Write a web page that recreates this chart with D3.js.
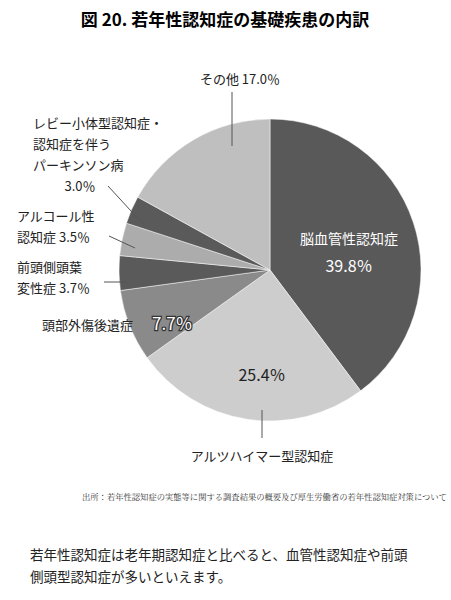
<!DOCTYPE html><html><head><meta charset="utf-8">
<script src="https://cdn.jsdelivr.net/npm/d3@7"></script>
<style>body{margin:0;background:#fff;font-family:"Noto Sans CJK JP",sans-serif}</style></head><body>
<svg id="c" width="451" height="600"></svg>
<script>
const categories=["脳血管性認知症","アルツハイマー型認知症","頭部外傷後遺症","前頭側頭葉変性症","アルコール性認知症","レビー小体型認知症・認知症を伴うパーキンソン病","その他"];
const values=[39.8,25.4,7.7,3.7,3.5,3.0,17.0];
const colors=["#595959","#cdcdcd","#8a8a8a","#5a5a5a","#acacac","#5a5a5a","#bfbfbf"];
const svg=d3.select("#c");
const cx=270,cy=270,r=151;
const pie=d3.pie().sort(null).value(d=>d)(values);
const arc=d3.arc().innerRadius(0).outerRadius(r);
const g=svg.append("g").attr("transform",`translate(${cx},${cy})`);
g.selectAll("path").data(pie).join("path").attr("d",arc).attr("fill",(d,i)=>colors[i]).attr("stroke","#fff").attr("stroke-width",0.5);
svg.append("text").attr("x",225).attr("y",26).attr("text-anchor","middle").attr("font-size",17).attr("font-weight","bold").text("図 20. 若年性認知症の基礎疾患の内訳");
function t(x,y,s,size,anchor,fill){return svg.append("text").attr("x",x).attr("y",y).attr("font-size",size||13).attr("text-anchor",anchor||"start").attr("fill",fill||"#222").text(s);}
const lines=[[232,92,232,146],[108,186,143,224],[109,236,135,248],[104,282,127,282]];
lines.forEach(l=>svg.append("line").attr("x1",l[0]).attr("y1",l[1]).attr("x2",l[2]).attr("y2",l[3]).attr("stroke","#555").attr("stroke-width",1));
svg.append("line").attr("x1",262).attr("y1",410).attr("x2",262).attr("y2",438).attr("stroke","#555");
t(240,84,"その他 17.0％",13,"middle");
t(33,128,"レビー小体型認知症・");t(33,149,"認知症を伴う");t(33,170,"パーキンソン病");t(80,191,"3.0％",13,"middle");
t(17,221,"アルコール性");t(17,242,"認知症 3.5％");
t(17,272,"前頭側頭葉");t(17,293,"変性症 3.7％");
t(42,330,"頭部外傷後遺症");
svg.append("text").attr("x",152).attr("y",330).attr("font-size",17).attr("fill","#fff").attr("stroke","#333").attr("stroke-width",2.5).attr("paint-order","stroke").text("7.7％");
t(349,244,"脳血管性認知症",14,"middle","#fff");t(349,272,"39.8％",16,"middle","#fff");
t(262,381,"25.4％",16,"middle");
t(262,461,"アルツハイマー型認知症",13,"middle");
svg.append("text").attr("x",82).attr("y",500).attr("font-size",8.3).attr("fill","#333").attr("font-family","Noto Serif CJK JP, serif").text("出所：若年性認知症の実態等に関する調査結果の概要及び厚生労働省の若年性認知症対策について");
t(30,560,"若年性認知症は老年期認知症と比べると、血管性認知症や前頭",13.5);
t(30,582,"側頭型認知症が多いといえます。",13.5);
</script></body></html>
